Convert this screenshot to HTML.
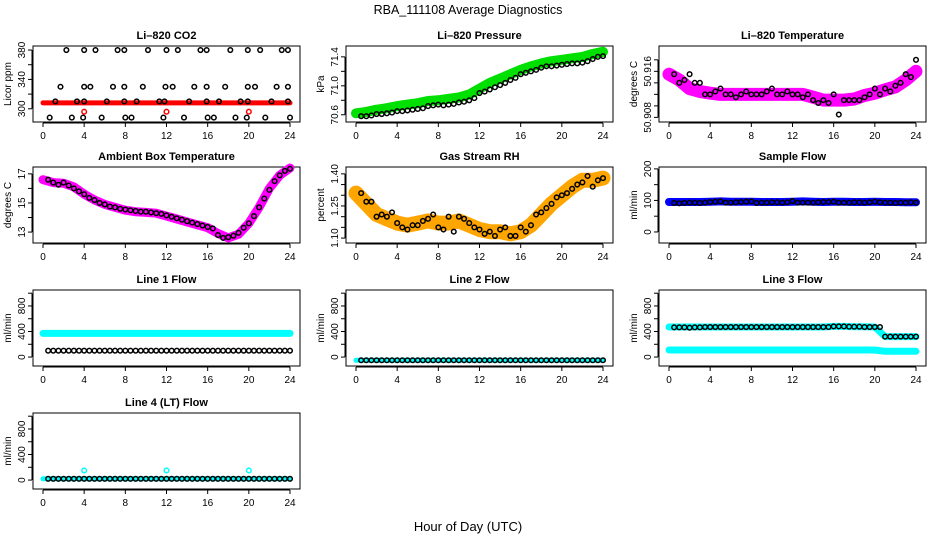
<!DOCTYPE html>
<html><head><meta charset="utf-8">
<style>
body{margin:0;background:#fff;}
svg{display:block;font-family:"Liberation Sans",sans-serif;}
</style></head>
<body>
<svg id="chart" width="936" height="540" viewBox="0 0 936 540">
<text x="468" y="14" text-anchor="middle" font-size="12.5">RBA_111108  Average Diagnostics</text>
<text x="468" y="531" text-anchor="middle" font-size="13">Hour of Day (UTC)</text>
</svg>
<script>
// ---- data ----
const hoursHourly = [0,1,2,3,4,5,6,7,8,9,10,11,12,13,14,15,16,17,18,19,20,21,22,23,24];
const hoursHalf = [0.5,1,1.5,2,2.5,3,3.5,4,4.5,5,5.5,6,6.5,7,7.5,8,8.5,9,9.5,10,10.5,11,11.5,12,12.5,13,13.5,14,14.5,15,15.5,16,16.5,17,17.5,18,18.5,19,19.5,20,20.5,21,21.5,22,22.5,23,23.5,24];
const xTicks = [0,4,8,12,16,20,24];

const co2Band = [308,308,308,308,308,308,308,308,308,308,308,308,308,308,308,308,308,308,308,308,308,308,308,308,308];
const co2BlackX = [2.27,4.0,5.1,7.25,7.9,10.2,12,13.1,15.3,15.9,18.2,19.9,21.1,23.2,23.8,
  1.7,4,4.6,6.8,7.9,9.7,11.9,12.6,14.7,15.9,17.7,19.9,20.6,22.7,23.8,
  1.2,3.3,4,6.2,7.9,9.1,11.3,11.8,14.2,15.9,17.1,19.2,19.9,22.2,23.8,
  0.65,2.8,3.9,5.7,8,8.6,11.7,13.7,16,16.6,18.7,19.8,21.6,24];
const co2BlackY = [380,380,380,380,380,380,380,380,380,380,380,380,380,380,380,
  330,330,330,330,330,330,330,330,330,330,330,330,330,330,330,
  310,310,310,310,310,310,310,310,310,310,310,310,310,310,310,
  288,288,288,288,288,288,288,288,288,288,288,288,288,288];
const co2OutX = [4,12,20];
const co2OutY = [296,296,296];

const pressBand = [70.62,70.64,70.67,70.69,70.72,70.74,70.76,70.79,70.80,70.82,70.84,70.88,70.96,71.04,71.10,71.16,71.22,71.27,71.31,71.34,71.36,71.38,71.40,71.44,71.47];
const pressBlack = [70.58,70.58,70.59,70.61,70.61,70.62,70.63,70.65,70.65,70.66,70.67,70.68,70.69,70.72,70.73,70.74,70.73,70.74,70.75,70.77,70.78,70.80,70.83,70.90,70.92,70.95,70.98,71.01,71.04,71.08,71.11,71.16,71.18,71.20,71.22,71.25,71.27,71.27,71.28,71.29,71.30,71.31,71.31,71.32,71.34,71.37,71.40,71.41];

const tempBand = [50.9155,50.9145,50.913,50.9125,50.9122,50.912,50.912,50.912,50.912,50.912,50.912,50.912,50.912,50.912,50.9115,50.911,50.911,50.911,50.9112,50.9118,50.9122,50.9128,50.9133,50.9145,50.916];
const tempBlack = [50.9155,50.914,50.9145,50.9155,50.914,50.914,50.912,50.912,50.9125,50.913,50.912,50.912,50.9115,50.912,50.9125,50.912,50.912,50.912,50.9125,50.913,50.912,50.912,50.9125,50.912,50.912,50.9115,50.912,50.911,50.9105,50.911,50.9105,50.912,50.9085,50.911,50.911,50.911,50.911,50.9115,50.912,50.913,50.912,50.913,50.9125,50.9135,50.914,50.9155,50.915,50.918];

const ambBand = [16.6,16.4,16.35,16.1,15.6,15.2,14.9,14.7,14.5,14.4,14.35,14.3,14.1,13.9,13.7,13.5,13.3,12.9,12.6,12.85,13.6,14.7,16.0,16.9,17.4];
const ambBlack = [16.6,16.4,16.25,16.4,16.2,16.0,15.8,15.6,15.35,15.2,15.0,14.9,14.75,14.7,14.6,14.55,14.5,14.45,14.4,14.4,14.35,14.3,14.25,14.15,14.05,13.95,13.85,13.75,13.65,13.55,13.45,13.35,13.25,12.8,12.6,12.65,12.75,12.95,13.3,13.6,14.1,14.7,15.3,15.9,16.5,16.9,17.2,17.35];

const rhBand = [1.31,1.26,1.21,1.19,1.17,1.16,1.17,1.18,1.17,1.17,1.18,1.16,1.14,1.13,1.13,1.12,1.13,1.16,1.21,1.26,1.30,1.34,1.37,1.37,1.38];
const rhBlack = [1.31,1.27,1.27,1.20,1.21,1.20,1.22,1.17,1.15,1.14,1.16,1.16,1.18,1.19,1.21,1.15,1.14,1.20,1.13,1.20,1.19,1.17,1.15,1.14,1.12,1.13,1.11,1.14,1.15,1.11,1.11,1.15,1.13,1.16,1.21,1.22,1.24,1.26,1.29,1.30,1.31,1.33,1.35,1.36,1.39,1.34,1.37,1.38];

const sampleBand = [95,95,95,95,96,97,96,96,96,95,95,95,96,97,96,95,96,96,95,95,96,95,95,94,94];
const sampleBlack = [92,91,92,93,93,92,93,95,96,97,93,93,94,95,96,97,92,93,93,94,94,93,94,98,93,93,93,93,94,95,95,96,93,93,93,94,94,93,94,96,94,93,93,92,93,93,94,93];

const line1Cyan = [370,370,370,370,370,370,370,370,370,370,370,370,370,370,370,370,370,370,370,370,370,370,370,370,370];
const line1Black = [100,100,100,100,100,100,100,100,100,100,100,100,100,100,100,100,100,100,100,100,100,100,100,100,100,100,100,100,100,100,100,100,100,100,100,100,100,100,100,100,100,100,100,100,100,100,100,100];

const line2Cyan = [-50,-50,-50,-50,-50,-50,-50,-50,-50,-50,-50,-50,-50,-50,-50,-50,-50,-50,-50,-50,-50,-50,-50,-50,-50];
const line2Black = [-50,-50,-50,-50,-50,-50,-50,-50,-50,-50,-50,-50,-50,-50,-50,-50,-50,-50,-50,-50,-50,-50,-50,-50,-50,-50,-50,-50,-50,-50,-50,-50,-50,-50,-50,-50,-50,-50,-50,-50,-50,-50,-50,-50,-50,-50,-50,-50];

const line3CyanHi = [470,470,470,470,470,470,470,470,470,470,470,470,470,470,470,470,480,480,475,475,470,320,320,320,320];
const line3CyanLo = [110,110,110,110,110,110,110,110,110,110,110,110,110,110,110,110,110,110,110,110,110,90,90,90,90];
const line3Black = [465,465,465,460,465,465,470,470,470,470,470,470,470,470,470,470,470,470,470,470,470,470,470,470,470,470,470,470,470,470,470,480,480,480,475,475,475,470,470,470,470,320,320,320,320,320,320,320];

const line4Cyan = [20,20,20,20,20,20,20,20,20,20,20,20,20,20,20,20,20,20,20,20,20,20,20,20,20];
const line4Black = [20,20,20,20,20,20,20,20,20,20,20,20,20,20,20,20,20,20,20,20,20,20,20,20,20,20,20,20,20,20,20,20,20,20,20,20,20,20,20,20,20,20,20,20,20,20,20,20];
const line4OutX = [4,12,20];
const line4OutY = [150,150,150];

const NS = "http://www.w3.org/2000/svg";
const svg = document.getElementById('chart');
function mk(tag, attrs, parent){const e=document.createElementNS(NS,tag);for(const k in attrs)e.setAttribute(k,attrs[k]);(parent||svg).appendChild(e);return e;}

const colLeft=[33,346,659], rowTop=[46,167,290,413], W=267, H=76;

function panel(cfg){
  const L=colLeft[cfg.col], T=rowTop[cfg.row];
  const g=mk('g',{});
  
  
  const xs=h=>L+10+h*(247/24);
  const ys=v=>T+H-(v-cfg.ylim[0])/(cfg.ylim[1]-cfg.ylim[0])*H;
  const t=mk('text',{x:L+W/2,y:T-7,'text-anchor':'middle','font-size':11,'font-weight':'bold'},g);
  t.textContent=cfg.title;
  
  
  const b=mk('rect',{x:L,y:T,width:W,height:H,fill:'none',stroke:'#000','stroke-width':1},g);
  
  
  const xa=mk('g',{},g);
  
  
  mk('line',{x1:xs(0),x2:xs(24),y1:T+H+1,y2:T+H+1,stroke:'#000'},xa);
  xTicks.forEach(v=>{
    mk('line',{x1:xs(v),x2:xs(v),y1:T+H+1,y2:T+H+5,stroke:'#000'},xa);
    if(cfg.xlabels){const tt=mk('text',{x:xs(v),y:T+H+17,'text-anchor':'middle','font-size':10},xa);tt.textContent=v;}
  });
  const ya=mk('g',{},g);
  
  
  const yt=cfg.yticks;
  mk('line',{x1:L-1,x2:L-1,y1:ys(yt[0]),y2:ys(yt[yt.length-1]),stroke:'#000'},ya);
  yt.forEach(v=>{
    mk('line',{x1:L-5,x2:L-1,y1:ys(v),y2:ys(v),stroke:'#000'},ya);
  });
  cfg.ylabels.forEach(v=>{
    const tt=mk('text',{x:0,y:0,'text-anchor':'middle','font-size':10,transform:`translate(${L-8},${ys(v)}) rotate(-90)`},ya);
    tt.textContent=cfg.fmt?cfg.fmt(v):v;
  });
  const yl=mk('text',{x:0,y:0,'text-anchor':'middle','font-size':10,transform:`translate(${L-22},${T+H/2}) rotate(-90)`},g);
  yl.textContent=cfg.ylab;
  
  
  (cfg.bands||[]).forEach(bd=>{
    let pts=[];
    bd.y.forEach((v,i)=>pts.push(xs(bd.x[i]).toFixed(1)+','+ys(v).toFixed(1)));
    const p=mk('polyline',{points:pts.join(' '),fill:'none',stroke:bd.color,'stroke-width':bd.w,'stroke-linejoin':'round','stroke-linecap':'round'},g);
    
    
  });
  (cfg.points||[]).forEach(ps=>{
    const pg=mk('g',{},g);
    
    
    ps.y.forEach((v,i)=>{
      const c=mk('circle',{cx:xs(ps.x[i]),cy:ys(v),r:2.3,fill:'none',stroke:ps.color,'stroke-width':1.5},pg);
      
      
    });
  });
}

const flowTicks=[0,200,400,600,800,1000], flowLabels=[0,400,800], flowLim=[-140,1050];

panel({name:'panel-co2',col:0,row:0,title:'Li\u2013820 CO2',ylab:'Licor ppm',ylim:[282,385.5],yticks:[300,320,340,360,380],ylabels:[300,340,380],xlabels:true,
  bands:[{x:hoursHourly,y:co2Band,color:'#ff0000',w:5}],
  points:[{x:co2BlackX,y:co2BlackY,color:'#000'},{x:co2OutX,y:co2OutY,color:'#ff0000'}]});
panel({name:'panel-pressure',col:1,row:0,title:'Li\u2013820 Pressure',ylab:'kPa',ylim:[70.5,71.55],yticks:[70.6,70.8,71.0,71.2,71.4],ylabels:[70.6,71.0,71.4],fmt:v=>v.toFixed(1),xlabels:true,
  bands:[{x:hoursHourly,y:pressBand,color:'#00e000',w:10}],
  points:[{x:hoursHalf,y:pressBlack,color:'#000'}]});
panel({name:'panel-li820-temp',col:2,row:0,title:'Li\u2013820 Temperature',ylab:'degrees C',ylim:[50.9072,50.9204],yticks:[50.908,50.910,50.912,50.914,50.916,50.918],ylabels:[50.908,50.916],fmt:v=>v.toFixed(3),xlabels:true,
  bands:[{x:hoursHourly,y:tempBand,color:'#ff00ff',w:13}],
  points:[{x:hoursHalf,y:tempBlack,color:'#000'}]});
panel({name:'panel-ambient-temp',col:0,row:1,title:'Ambient Box Temperature',ylab:'degrees C',ylim:[12.25,17.47],yticks:[13,14,15,16,17],ylabels:[13,15,17],xlabels:true,
  bands:[{x:hoursHourly,y:ambBand,color:'#ff00ff',w:9}],
  points:[{x:hoursHalf,y:ambBlack,color:'#000'}]});
panel({name:'panel-rh',col:1,row:1,title:'Gas Stream RH',ylab:'percent',ylim:[1.077,1.432],yticks:[1.10,1.15,1.20,1.25,1.30,1.35,1.40],ylabels:[1.10,1.25,1.40],fmt:v=>v.toFixed(2),xlabels:true,
  bands:[{x:hoursHourly,y:rhBand,color:'#ffa500',w:15}],
  points:[{x:hoursHalf,y:rhBlack,color:'#000'}]});
panel({name:'panel-sample-flow',col:2,row:1,title:'Sample Flow',ylab:'ml/min',ylim:[-35,206],yticks:[0,50,100,150,200],ylabels:[0,100,200],xlabels:true,
  bands:[{x:hoursHourly,y:sampleBand,color:'#0000ff',w:8}],
  points:[{x:hoursHalf,y:sampleBlack,color:'#000'}]});
panel({name:'panel-line1-flow',col:0,row:2,title:'Line 1 Flow',ylab:'ml/min',ylim:flowLim,yticks:flowTicks,ylabels:flowLabels,xlabels:true,
  bands:[{x:hoursHourly,y:line1Cyan,color:'#00ffff',w:7}],
  points:[{x:hoursHalf,y:line1Black,color:'#000'}]});
panel({name:'panel-line2-flow',col:1,row:2,title:'Line 2 Flow',ylab:'ml/min',ylim:flowLim,yticks:flowTicks,ylabels:flowLabels,xlabels:true,
  bands:[{x:hoursHourly,y:line2Cyan,color:'#00ffff',w:5}],
  points:[{x:hoursHalf,y:line2Black,color:'#000'}]});
panel({name:'panel-line3-flow',col:2,row:2,title:'Line 3 Flow',ylab:'ml/min',ylim:flowLim,yticks:flowTicks,ylabels:flowLabels,xlabels:true,
  bands:[{x:hoursHourly,y:line3CyanHi,color:'#00ffff',w:7},{x:hoursHourly,y:line3CyanLo,color:'#00ffff',w:7}],
  points:[{x:hoursHalf,y:line3Black,color:'#000'}]});
panel({name:'panel-line4-flow',col:0,row:3,title:'Line 4 (LT) Flow',ylab:'ml/min',ylim:flowLim,yticks:flowTicks,ylabels:flowLabels,xlabels:true,
  bands:[{x:hoursHourly,y:line4Cyan,color:'#00ffff',w:5}],
  points:[{x:hoursHalf,y:line4Black,color:'#000'},{x:line4OutX,y:line4OutY,color:'#00ffff'}]});
</script>
</body></html>
